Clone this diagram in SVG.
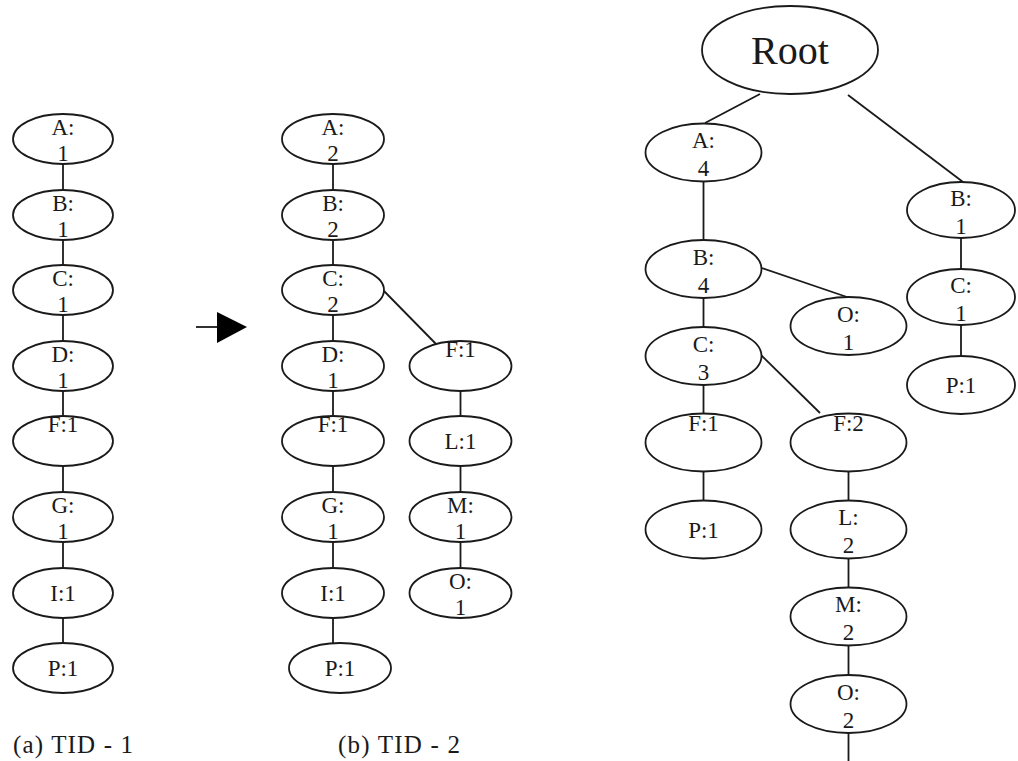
<svg xmlns="http://www.w3.org/2000/svg" width="1018" height="761" viewBox="0 0 1018 761">
<style>
ellipse{fill:#fff;stroke:#1a1a1a;stroke-width:1.8}
#connectors line{stroke:#1a1a1a;stroke-width:1.8}
text{font-family:"Liberation Serif","Times New Roman",serif;font-size:23px;fill:#1a1a1a;text-anchor:middle}
.cap{text-anchor:start;font-size:25px}
.root{font-size:40px}
</style>
<rect width="1018" height="761" fill="#fff"/>
<g id="connectors">
<line x1="63" y1="164" x2="63" y2="190"/>
<line x1="63" y1="240" x2="63" y2="265"/>
<line x1="63" y1="315" x2="63" y2="341"/>
<line x1="63" y1="391" x2="63" y2="416"/>
<line x1="63" y1="466" x2="63" y2="492"/>
<line x1="63" y1="542" x2="63" y2="568"/>
<line x1="63" y1="618" x2="63" y2="643"/>
<line x1="333" y1="164" x2="333" y2="190"/>
<line x1="333" y1="240" x2="333" y2="265"/>
<line x1="333" y1="315" x2="333" y2="341"/>
<line x1="333" y1="391" x2="333" y2="416"/>
<line x1="333" y1="466" x2="333" y2="492"/>
<line x1="333" y1="542" x2="333" y2="568"/>
<line x1="333" y1="618" x2="333" y2="643"/>
<line x1="384" y1="291" x2="436" y2="344"/>
<line x1="460.5" y1="391" x2="460.5" y2="416"/>
<line x1="460.5" y1="466" x2="460.5" y2="492"/>
<line x1="460.5" y1="542" x2="460.5" y2="568"/>
<line x1="196" y1="327" x2="220" y2="327"/>
<line x1="760" y1="94" x2="705" y2="123"/>
<line x1="848" y1="95" x2="963" y2="182"/>
<line x1="703.5" y1="181.5" x2="703.5" y2="240"/>
<line x1="762" y1="268" x2="847" y2="297"/>
<line x1="703.5" y1="298" x2="703.5" y2="327"/>
<line x1="703.5" y1="385" x2="703.5" y2="413.5"/>
<line x1="761" y1="355" x2="820" y2="413"/>
<line x1="703.5" y1="471.5" x2="703.5" y2="500.5"/>
<line x1="848.5" y1="471.5" x2="848.5" y2="500.5"/>
<line x1="848.5" y1="558.5" x2="848.5" y2="587.5"/>
<line x1="848.5" y1="645.5" x2="848.5" y2="675"/>
<line x1="848.5" y1="733" x2="848.5" y2="761"/>
<line x1="961" y1="238" x2="961" y2="269"/>
<line x1="961" y1="326" x2="961" y2="356"/>
<polygon points="217,312 247,327 217,343" fill="#000"/>
</g>
<!-- (a) -->
<g id="a_A"><ellipse cx="63" cy="139" rx="50" ry="25"/><text x="63" y="135">A:</text><text x="63" y="161">1</text></g>
<g id="a_B"><ellipse cx="63" cy="215" rx="50" ry="25"/><text x="63" y="211">B:</text><text x="63" y="237">1</text></g>
<g id="a_C"><ellipse cx="63" cy="290" rx="50" ry="25"/><text x="63" y="286">C:</text><text x="63" y="312">1</text></g>
<g id="a_D"><ellipse cx="63" cy="366" rx="50" ry="25"/><text x="63" y="362">D:</text><text x="63" y="388">1</text></g>
<g id="a_F"><ellipse cx="63" cy="441" rx="50" ry="25"/><text x="63" y="432">F:1</text></g>
<g id="a_G"><ellipse cx="63" cy="517" rx="50" ry="25"/><text x="63" y="513">G:</text><text x="63" y="539">1</text></g>
<g id="a_I"><ellipse cx="63" cy="593" rx="50" ry="25"/><text x="63" y="601">I:1</text></g>
<g id="a_P"><ellipse cx="63" cy="668" rx="50" ry="25"/><text x="63" y="676">P:1</text></g>
<!-- (b) -->
<g id="b_A"><ellipse cx="333" cy="139" rx="51" ry="25"/><text x="333" y="135">A:</text><text x="333" y="161">2</text></g>
<g id="b_B"><ellipse cx="333" cy="215" rx="51" ry="25"/><text x="333" y="211">B:</text><text x="333" y="237">2</text></g>
<g id="b_C"><ellipse cx="333" cy="290" rx="51" ry="25"/><text x="333" y="286">C:</text><text x="333" y="312">2</text></g>
<g id="b_D"><ellipse cx="333" cy="366" rx="51" ry="25"/><text x="333" y="362">D:</text><text x="333" y="388">1</text></g>
<g id="b_F"><ellipse cx="333" cy="441" rx="51" ry="25"/><text x="333" y="432">F:1</text></g>
<g id="b_G"><ellipse cx="333" cy="517" rx="51" ry="25"/><text x="333" y="513">G:</text><text x="333" y="539">1</text></g>
<g id="b_I"><ellipse cx="333" cy="593" rx="51" ry="25"/><text x="333" y="601">I:1</text></g>
<g id="b_P"><ellipse cx="340" cy="668" rx="51" ry="25"/><text x="340" y="676">P:1</text></g>
<g id="b_F2"><ellipse cx="460.5" cy="366" rx="51" ry="25"/><text x="460.5" y="357">F:1</text></g>
<g id="b_L"><ellipse cx="460.5" cy="441" rx="51" ry="25"/><text x="460.5" y="449">L:1</text></g>
<g id="b_M"><ellipse cx="460.5" cy="517" rx="51" ry="25"/><text x="460.5" y="513">M:</text><text x="460.5" y="539">1</text></g>
<g id="b_O"><ellipse cx="460.5" cy="593" rx="51" ry="25"/><text x="460.5" y="589">O:</text><text x="460.5" y="615">1</text></g>
<!-- merged tree -->
<g id="root"><ellipse cx="790" cy="50" rx="88" ry="44"/><text class="root" x="790" y="64">Root</text></g>
<g id="r_A"><ellipse cx="703.5" cy="152.5" rx="58" ry="29"/><text x="703.5" y="148">A:</text><text x="703.5" y="176">4</text></g>
<g id="r_B"><ellipse cx="703.5" cy="269" rx="58" ry="29"/><text x="703.5" y="264.5">B:</text><text x="703.5" y="292.5">4</text></g>
<g id="r_O1"><ellipse cx="848.5" cy="326" rx="58" ry="29"/><text x="848.5" y="321.5">O:</text><text x="848.5" y="349.5">1</text></g>
<g id="r_C"><ellipse cx="703.5" cy="356" rx="58" ry="29"/><text x="703.5" y="351.5">C:</text><text x="703.5" y="379.5">3</text></g>
<g id="r_F1"><ellipse cx="703.5" cy="442.5" rx="58" ry="29"/><text x="703.5" y="431">F:1</text></g>
<g id="r_P1"><ellipse cx="703.5" cy="529.5" rx="58" ry="29"/><text x="703.5" y="538">P:1</text></g>
<g id="r_F2"><ellipse cx="848.5" cy="442.5" rx="58" ry="29"/><text x="848.5" y="431">F:2</text></g>
<g id="r_L"><ellipse cx="848.5" cy="529.5" rx="58" ry="29"/><text x="848.5" y="525">L:</text><text x="848.5" y="553">2</text></g>
<g id="r_M"><ellipse cx="848.5" cy="616.5" rx="58" ry="29"/><text x="848.5" y="612">M:</text><text x="848.5" y="640">2</text></g>
<g id="r_O2"><ellipse cx="848.5" cy="704" rx="58" ry="29"/><text x="848.5" y="699.5">O:</text><text x="848.5" y="727.5">2</text></g>
<g id="r_B1"><ellipse cx="961" cy="210" rx="54" ry="28"/><text x="961" y="205.5">B:</text><text x="961" y="233.5">1</text></g>
<g id="r_C1"><ellipse cx="961" cy="297" rx="54" ry="28"/><text x="961" y="292.5">C:</text><text x="961" y="320.5">1</text></g>
<g id="r_P1b"><ellipse cx="961" cy="385" rx="54" ry="29"/><text x="961" y="393">P:1</text></g>
<text class="cap" x="13" y="753" textLength="120" lengthAdjust="spacing">(a) TID - 1</text>
<text class="cap" x="338" y="753" textLength="122" lengthAdjust="spacing">(b) TID - 2</text>
</svg>
